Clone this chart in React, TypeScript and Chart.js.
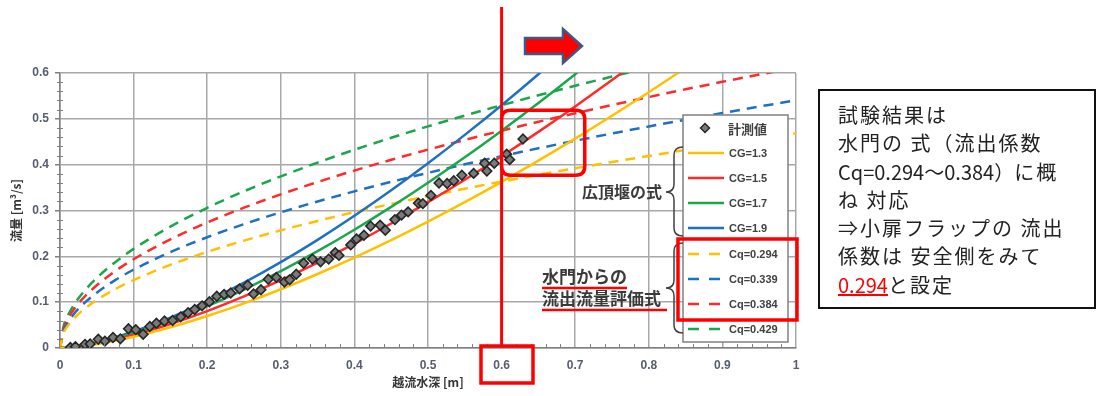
import React, { useEffect, useRef } from "react";
import { Chart, registerables } from "chart.js";

Chart.register(...registerables);

// ---------- data ----------
const measuredH = [0.014, 0.021, 0.034, 0.041, 0.052, 0.061, 0.072, 0.082, 0.093, 0.103, 0.113, 0.122, 0.131, 0.142, 0.153, 0.164, 0.174, 0.183, 0.193, 0.203, 0.213, 0.223, 0.232, 0.244, 0.255, 0.263, 0.273, 0.283, 0.294, 0.305, 0.312, 0.321, 0.331, 0.343, 0.354, 0.365, 0.374, 0.379, 0.395, 0.403, 0.413, 0.422, 0.435, 0.442, 0.455, 0.464, 0.473, 0.487, 0.493, 0.504, 0.515, 0.526, 0.535, 0.546, 0.562, 0.577, 0.58, 0.59, 0.607, 0.611, 0.629];
const measuredQ = [0.001, 0.003, 0.008, 0.009, 0.019, 0.015, 0.023, 0.02, 0.042, 0.04, 0.03, 0.047, 0.054, 0.059, 0.06, 0.068, 0.077, 0.084, 0.092, 0.101, 0.113, 0.117, 0.12, 0.129, 0.137, 0.118, 0.127, 0.15, 0.154, 0.144, 0.149, 0.161, 0.185, 0.194, 0.188, 0.194, 0.208, 0.202, 0.225, 0.238, 0.246, 0.266, 0.268, 0.257, 0.28, 0.29, 0.297, 0.316, 0.315, 0.333, 0.36, 0.359, 0.365, 0.377, 0.381, 0.403, 0.386, 0.403, 0.423, 0.411, 0.456];

const weirH = [0, 0.05, 0.1, 0.15, 0.2, 0.25, 0.3, 0.35, 0.4, 0.45, 0.5, 0.55, 0.6, 0.65, 0.7, 0.75, 0.8, 0.85];
const cg13 = [0, 0.0087, 0.0247, 0.0453, 0.0698, 0.0975, 0.1282, 0.1615, 0.1973, 0.2355, 0.2758, 0.3182, 0.3625, 0.4088, 0.4568, 0.5066, 0.5581, 0.6113];
const cg15 = [0, 0.0101, 0.0285, 0.0523, 0.0805, 0.1125, 0.1479, 0.1864, 0.2277, 0.2717, 0.3182, 0.3671, 0.4183, 0.4716, 0.5271, 0.5846, 0.644];
const cg17 = [0, 0.0114, 0.0323, 0.0593, 0.0912, 0.1275, 0.1676, 0.2112, 0.258, 0.3079, 0.3606, 0.416, 0.4741, 0.5345, 0.5974, 0.6625];
const cg19 = [0, 0.0127, 0.036, 0.0662, 0.102, 0.1425, 0.1873, 0.236, 0.2884, 0.3441, 0.4031, 0.465, 0.5298, 0.5974, 0.6677];

const gateH = [0, 0.005, 0.01, 0.02, 0.03, 0.05, 0.075, 0.1, 0.15, 0.2, 0.25, 0.3, 0.35, 0.4, 0.45, 0.5, 0.55, 0.6, 0.65, 0.7, 0.75, 0.8, 0.85, 0.9, 0.95, 1.0];
const cq294 = [0, 0.0331, 0.0469, 0.0663, 0.0812, 0.1048, 0.1284, 0.1482, 0.1815, 0.2096, 0.2343, 0.2567, 0.2772, 0.2964, 0.3143, 0.3313, 0.3475, 0.363, 0.3778, 0.3921, 0.4058, 0.4191, 0.432, 0.4446, 0.4567, 0.4686];
const cq339 = [0, 0.0382, 0.054, 0.0764, 0.0936, 0.1208, 0.148, 0.1709, 0.2093, 0.2417, 0.2702, 0.296, 0.3197, 0.3418, 0.3625, 0.3821, 0.4008, 0.4186, 0.4357, 0.4522, 0.468, 0.4833, 0.4982, 0.5127, 0.5267, 0.5404];
const cq384 = [0, 0.0433, 0.0612, 0.0866, 0.106, 0.1369, 0.1677, 0.1936, 0.2371, 0.2737, 0.3061, 0.3353, 0.3621, 0.3871, 0.4106, 0.4328, 0.4539, 0.4741, 0.4935, 0.5121, 0.5301, 0.5475, 0.5644, 0.5807, 0.5966, 0.6121];
const cq429 = [0, 0.0484, 0.0684, 0.0967, 0.1184, 0.1529, 0.1873, 0.2162, 0.2648, 0.3058, 0.3419, 0.3745, 0.4045, 0.4325, 0.4587, 0.4835, 0.5071, 0.5297, 0.5513, 0.5721, 0.5922, 0.6116];

const seriesLabels = ["計測値", "CG=1.3", "CG=1.5", "CG=1.7", "CG=1.9", "Cq=0.294", "Cq=0.339", "Cq=0.384", "Cq=0.429"];
const xTicks = [0, 0.1, 0.2, 0.3, 0.4, 0.5, 0.6, 0.7, 0.8, 0.9, 1];
const yTicks = [0, 0.1, 0.2, 0.3, 0.4, 0.5, 0.6];

const YELLOW = "#FFC000";
const RED = "#FF2A2A";
const GREEN = "#1AA64A";
const BLUE = "#1F70C1";
const CJK = '"Noto Sans CJK JP", "Noto Sans", sans-serif';
const LAT = '"Liberation Sans", Arial, sans-serif';
const DASH = [10, 7];

const pts = (xs: number[], ys: number[]) => ys.map((y, i) => ({ x: xs[i], y }));

function roundRect(ctx: CanvasRenderingContext2D, x: number, y: number, w: number, h: number, r: number) {
  ctx.beginPath();
  ctx.moveTo(x + r, y);
  ctx.lineTo(x + w - r, y);
  ctx.quadraticCurveTo(x + w, y, x + w, y + r);
  ctx.lineTo(x + w, y + h - r);
  ctx.quadraticCurveTo(x + w, y + h, x + w - r, y + h);
  ctx.lineTo(x + r, y + h);
  ctx.quadraticCurveTo(x, y + h, x, y + h - r);
  ctx.lineTo(x, y + r);
  ctx.quadraticCurveTo(x, y, x + r, y);
  ctx.closePath();
}

function brace(ctx: CanvasRenderingContext2D, xr: number, xm: number, xt: number, y0: number, yt: number, y1: number) {
  const r = 8;
  ctx.beginPath();
  ctx.moveTo(xr, y0);
  ctx.quadraticCurveTo(xm, y0, xm, y0 + r);
  ctx.lineTo(xm, yt - r);
  ctx.quadraticCurveTo(xm, yt, xt, yt);
  ctx.quadraticCurveTo(xm, yt, xm, yt + r);
  ctx.lineTo(xm, y1 - r);
  ctx.quadraticCurveTo(xm, y1, xr, y1);
  ctx.stroke();
}

const overlayPlugin = {
  id: "overlay",
  afterDraw(chart: any) {
    const ctx: CanvasRenderingContext2D = chart.ctx;
    const xs = chart.scales.x;
    const ys = chart.scales.y;
    const { left, bottom } = chart.chartArea;
    ctx.save();

    // minor ticks
    ctx.strokeStyle = "#7F7F7F";
    ctx.lineWidth = 1;
    for (let i = 1; i < 50; i++) {
      if (i % 5 === 0) continue;
      const px = Math.round(xs.getPixelForValue(i * 0.02)) + 0.5;
      ctx.beginPath();
      ctx.moveTo(px, bottom - 4);
      ctx.lineTo(px, bottom);
      ctx.stroke();
    }
    for (let i = 1; i < 30; i++) {
      if (i % 5 === 0) continue;
      const py = Math.round(ys.getPixelForValue(i * 0.02)) + 0.5;
      ctx.beginPath();
      ctx.moveTo(left - 3, py);
      ctx.lineTo(left + 3, py);
      ctx.stroke();
    }

    // legend box
    const lx = 683, ly = 115, lw = 105, lh = 227;
    ctx.fillStyle = "#fff";
    ctx.fillRect(lx, ly, lw, lh);
    ctx.strokeStyle = "#808080";
    ctx.lineWidth = 1.5;
    ctx.strokeRect(lx, ly, lw, lh);
    const rowY = [128, 153, 178, 203, 228, 254, 279, 304, 329];
    const ds = chart.data.datasets;
    ds.forEach((d: any, i: number) => {
      const y = rowY[i];
      if (i === 0) {
        ctx.beginPath();
        ctx.moveTo(705, y - 4.5);
        ctx.lineTo(709.5, y);
        ctx.lineTo(705, y + 4.5);
        ctx.lineTo(700.5, y);
        ctx.closePath();
        ctx.fillStyle = d.backgroundColor;
        ctx.fill();
        ctx.strokeStyle = d.borderColor;
        ctx.lineWidth = 1.5;
        ctx.stroke();
      } else {
        ctx.strokeStyle = d.borderColor;
        ctx.lineWidth = 2.5;
        ctx.setLineDash(d.borderDash && d.borderDash.length ? [11, 10] : []);
        ctx.beginPath();
        ctx.moveTo(688, y);
        ctx.lineTo(724, y);
        ctx.stroke();
        ctx.setLineDash([]);
      }
      ctx.fillStyle = "#404040";
      ctx.textBaseline = "middle";
      ctx.textAlign = "left";
      ctx.font = i === 0 ? `bold 13px ${CJK}` : `bold 11px ${LAT}`;
      ctx.fillText(d.label, i === 0 ? 728 : 729, y + 1);
    });

    // braces
    ctx.strokeStyle = "#404040";
    ctx.lineWidth = 1.5;
    brace(ctx, 683, 674, 666, 147, 192, 236);
    brace(ctx, 683, 674, 666, 243, 288, 333);

    // brace labels
    ctx.fillStyle = "#3A3A3A";
    ctx.textBaseline = "middle";
    ctx.font = `bold 16px ${CJK}`;
    ctx.textAlign = "right";
    ctx.fillText("広頂堰の式", 662, 192);
    ctx.textAlign = "left";
    ctx.font = `bold 17px ${CJK}`;
    ctx.fillText("水門からの", 542, 277);
    ctx.fillText("流出流量評価式", 542, 299);
    ctx.strokeStyle = "#FF0000";
    ctx.lineWidth = 2.5;
    ctx.beginPath();
    ctx.moveTo(542, 288);
    ctx.lineTo(627, 288);
    ctx.moveTo(542, 310);
    ctx.lineTo(667, 310);
    ctx.stroke();

    // red frame around Cq legend rows
    ctx.strokeStyle = "#FF0000";
    ctx.lineWidth = 3.5;
    ctx.strokeRect(678, 239, 119, 81);

    // vertical line at H = 0.6
    const x06 = xs.getPixelForValue(0.6);
    ctx.lineWidth = 3;
    ctx.beginPath();
    ctx.moveTo(x06, 7);
    ctx.lineTo(x06, 346);
    ctx.stroke();
    // box around tick 0.6
    ctx.lineWidth = 3.5;
    ctx.strokeRect(481, 346, 52, 37);

    // rounded highlight box
    const bx0 = x06, bx1 = xs.getPixelForValue(0.713);
    const by0 = ys.getPixelForValue(0.519), by1 = ys.getPixelForValue(0.377);
    ctx.lineWidth = 3.5;
    roundRect(ctx, bx0, by0, bx1 - bx0, by1 - by0, 9);
    ctx.stroke();

    // arrow
    ctx.beginPath();
    ctx.moveTo(525, 38);
    ctx.lineTo(563, 38);
    ctx.lineTo(563, 29);
    ctx.lineTo(582, 46);
    ctx.lineTo(563, 63);
    ctx.lineTo(563, 54);
    ctx.lineTo(525, 54);
    ctx.closePath();
    ctx.fillStyle = "#FF0000";
    ctx.fill();
    ctx.strokeStyle = "#3B5A85";
    ctx.lineWidth = 2.5;
    ctx.lineJoin = "miter";
    ctx.stroke();

    ctx.restore();
  },
};

const fmt = (v: number) => String(Number(v.toFixed(1)));

export default function App() {
  const ref = useRef<HTMLCanvasElement>(null);

  useEffect(() => {
    const solid = (label: string, color: string, xs: number[], ys: number[]) => ({
      label,
      data: pts(xs, ys),
      showLine: true,
      borderColor: color,
      backgroundColor: color,
      borderWidth: 2.5,
      pointRadius: 0,
      cubicInterpolationMode: "monotone" as const,
      borderDash: [] as number[],
    });
    const dashed = (label: string, color: string, xs: number[], ys: number[]) => ({
      ...solid(label, color, xs, ys),
      borderDash: DASH,
    });

    const chart = new Chart(ref.current as HTMLCanvasElement, {
      type: "scatter",
      data: {
        datasets: [
          {
            label: seriesLabels[0],
            data: pts(measuredH, measuredQ),
            showLine: false,
            pointStyle: "rectRot",
            pointRadius: 4.8,
            backgroundColor: "#7A7A7A",
            borderColor: "#262626",
            borderWidth: 1.6,
          } as any,
          solid(seriesLabels[1], YELLOW, weirH, cg13),
          solid(seriesLabels[2], RED, weirH, cg15),
          solid(seriesLabels[3], GREEN, weirH, cg17),
          solid(seriesLabels[4], BLUE, weirH, cg19),
          dashed(seriesLabels[5], YELLOW, gateH, cq294),
          dashed(seriesLabels[6], BLUE, gateH, cq339),
          dashed(seriesLabels[7], RED, gateH, cq384),
          dashed(seriesLabels[8], GREEN, gateH, cq429),
        ],
      },
      options: {
        responsive: false,
        animation: false,
        layout: { padding: { left: 0, top: 73, right: 307, bottom: 0 } },
        plugins: { legend: { display: false }, tooltip: { enabled: false } },
        scales: {
          x: {
            type: "linear",
            min: 0,
            max: 1,
            afterFit: (s: any) => { s.height = 48; },
            afterBuildTicks: (s: any) => { s.ticks = xTicks.map((value) => ({ value })); },
            ticks: {
              callback: (v: any) => fmt(Number(v)),
              color: "#555D6E",
              font: { family: LAT, size: 12, weight: "bold" },
              padding: 10,
              maxRotation: 0,
            },
            grid: { color: "#A8A8A8", lineWidth: 1.5, drawTicks: false },
            border: { color: "#7F7F7F", width: 1.5 },
            title: {
              display: true,
              text: "越流水深 [m]",
              color: "#333333",
              font: { family: CJK, size: 12, weight: "bold" },
              padding: { top: 0, bottom: 6 },
            },
          },
          y: {
            type: "linear",
            min: 0,
            max: 0.6,
            afterFit: (s: any) => { s.width = 60; },
            afterBuildTicks: (s: any) => { s.ticks = yTicks.map((value) => ({ value })); },
            ticks: {
              callback: (v: any) => fmt(Number(v)),
              color: "#555D6E",
              font: { family: LAT, size: 12, weight: "bold" },
              padding: 6,
            },
            grid: { color: "#A8A8A8", lineWidth: 1.5, tickLength: 5, tickColor: "#7F7F7F" },
            border: { color: "#7F7F7F", width: 1.5 },
            title: {
              display: true,
              text: "流量 [m³/s]",
              color: "#333333",
              font: { family: CJK, size: 12, weight: "bold" },
              padding: { top: 9, bottom: 0 },
            },
          },
        },
      } as any,
      plugins: [overlayPlugin],
    });
    return () => chart.destroy();
  }, []);

  const cjkLine: React.CSSProperties = { letterSpacing: "2px", whiteSpace: "nowrap" };

  return (
    <div style={{ position: "absolute", left: 0, top: 0, width: 1103, height: 396, background: "#fff", overflow: "hidden" }}>
      <canvas ref={ref} width={1103} height={396} style={{ position: "absolute", left: 0, top: 0, width: 1103, height: 396 }} />
      <div
        style={{
          position: "absolute",
          left: 818,
          top: 89,
          width: 274,
          height: 216,
          border: "2px solid #111",
          boxSizing: "content-box",
          padding: 0,
          fontFamily: CJK,
          fontSize: 20,
          lineHeight: "28.3px",
          color: "#222",
        }}
      >
        <div style={{ position: "absolute", left: 18, top: 10 }}>
          <div style={cjkLine}>試験結果は</div>
          <div style={cjkLine}>水門の 式（流出係数</div>
          <div style={{ whiteSpace: "nowrap" }}>
            <span>Cq=0.294～0.384）</span>
            <span style={{ letterSpacing: "2px" }}>に概</span>
          </div>
          <div style={cjkLine}>ね 対応</div>
          <div style={cjkLine}>⇒小扉フラップの 流出</div>
          <div style={cjkLine}>係数は 安全側をみて</div>
          <div style={cjkLine}>
            <span style={{ color: "#FF0000", textDecoration: "underline", letterSpacing: 0 }}>0.294</span>と設定
          </div>
        </div>
      </div>
    </div>
  );
}
